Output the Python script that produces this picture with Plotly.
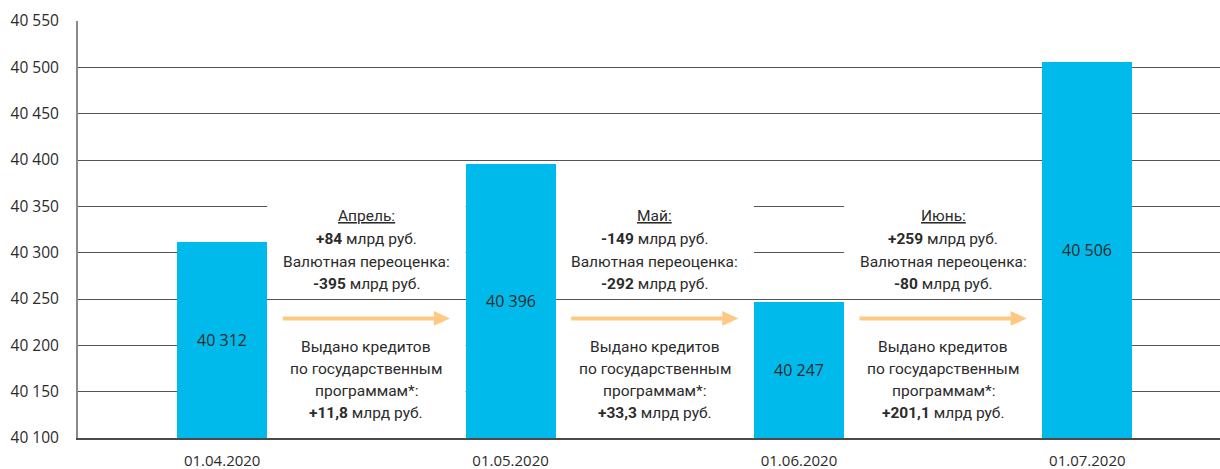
import plotly.graph_objects as go

categories = ["01.04.2020", "01.05.2020", "01.06.2020", "01.07.2020"]
values = [40312, 40396, 40247, 40506]
value_labels = ["40 312", "40 396", "40 247", "40 506"]
y_ticks = [40100, 40150, 40200, 40250, 40300, 40350, 40400, 40450, 40500, 40550]
y_tick_labels = ["40 100", "40 150", "40 200", "40 250", "40 300", "40 350",
                 "40 400", "40 450", "40 500", "40 550"]

months = ["Апрель:", "Май:", "Июнь:"]
month_change = ["+84", "-149", "+259"]
fx_reval = ["-395", "-292", "-80"]
state_loans = ["+11,8", "+33,3", "+201,1"]

Y_MIN, Y_MAX = 40100, 40550
BAR_W = 0.312
BAR_COLOR = "#00BAEC"
ARROW_COLOR = "#FFC983"
TXT = "#2b2b2b"

x = list(range(len(categories)))

fig = go.Figure()
fig.add_trace(go.Bar(
    x=x, y=[v - Y_MIN for v in values], base=Y_MIN, width=BAR_W,
    marker=dict(color=BAR_COLOR, line=dict(width=0)),
    text=value_labels, textposition="inside", insidetextanchor="middle",
    textfont=dict(family="Open Sans", size=16, color=TXT),
    hoverinfo="skip",
))

shapes = []
annotations = []
upper_lines_y = [40339.5, 40314.5, 40289.7, 40266]
lower_lines_y = [40198, 40174.2, 40150.4, 40126.7]
arrow_y = 40229

for i in range(3):
    x0 = i + BAR_W / 2
    x1 = i + 1 - BAR_W / 2
    shapes.append(dict(type="rect", xref="x", yref="y", x0=x0, x1=x1, y0=40256, y1=40380,
                       fillcolor="white", line=dict(width=0), layer="between"))
    shapes.append(dict(type="rect", xref="x", yref="y", x0=x0, x1=x1, y0=40102, y1=40244,
                       fillcolor="white", line=dict(width=0), layer="between"))
    ax0 = i + 0.21
    ax1 = i + 1 - 0.21
    head = 0.056
    shapes.append(dict(type="line", xref="x", yref="y", x0=ax0, x1=ax1 - head + 0.005,
                       y0=arrow_y, y1=arrow_y, line=dict(color=ARROW_COLOR, width=4),
                       layer="above"))
    shapes.append(dict(type="path", xref="x", yref="y",
                       path=f"M {ax1 - head} {arrow_y + 8} L {ax1} {arrow_y} L {ax1 - head} {arrow_y - 8} Z",
                       fillcolor=ARROW_COLOR, line=dict(width=0), layer="above"))
    cx = i + 0.5
    upper = [f"<u>{months[i]}</u>",
             f"<b>{month_change[i]}</b> млрд руб.",
             "Валютная переоценка:",
             f"<b>{fx_reval[i]}</b> млрд руб."]
    lower = ["Выдано кредитов",
             "по государственным",
             "программам*:",
             f"<b>{state_loans[i]}</b> млрд руб."]
    for t, yy in zip(upper + lower, upper_lines_y + lower_lines_y):
        annotations.append(dict(x=cx, y=yy, xref="x", yref="y", text=t, showarrow=False,
                                xanchor="center", yanchor="middle",
                                font=dict(family="Roboto", size=15.5, color=TXT)))

fig.update_layout(
    width=1220, height=469,
    margin=dict(l=78, r=0, t=21, b=31),
    plot_bgcolor="white", paper_bgcolor="white",
    showlegend=False,
    shapes=shapes, annotations=annotations,
    bargap=0,
)
fig.update_xaxes(
    range=[-0.5, 3.46], tickvals=x, ticktext=categories,
    showgrid=False, zeroline=False, ticks="",
    showline=True, linecolor="#4a4a4a", linewidth=2,
    tickfont=dict(family="Open Sans", size=15, color=TXT),
    ticklabelstandoff=8,
)
fig.update_yaxes(
    range=[Y_MIN, Y_MAX], tickvals=y_ticks, ticktext=y_tick_labels,
    showgrid=True, gridcolor="#555555", gridwidth=1, zeroline=False, ticks="",
    showline=True, linecolor="#8a8a8a", linewidth=2,
    tickfont=dict(family="Open Sans", size=15.5, color=TXT),
    ticklabelstandoff=14,
)

fig.write_html("out.html", config={"displayModeBar": False})
with open("out.html", encoding="utf-8") as f:
    html = f.read()
html = html.replace("<head>", "<head><style>html,body{margin:0;padding:0;overflow:hidden;}</style>", 1)
with open("out.html", "w", encoding="utf-8") as f:
    f.write(html)
